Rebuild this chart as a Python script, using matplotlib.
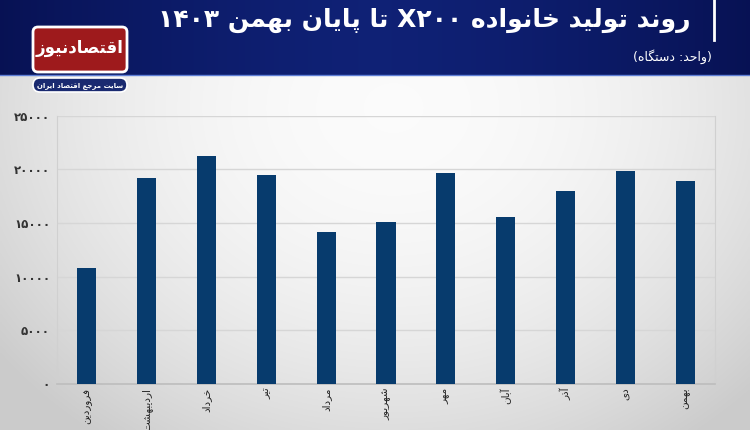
import matplotlib
matplotlib.use("Agg")
import matplotlib.pyplot as plt
import numpy as np
from matplotlib.patches import FancyBboxPatch
from matplotlib.ticker import FuncFormatter

# ---------------- data ----------------
months = ["فروردین", "اردیبهشت", "خرداد", "تیر", "مرداد", "شهریور",
          "مهر", "آبان", "آذر", "دی", "بهمن"]
production = [10800, 19200, 21300, 19500, 14150, 15100,
              19650, 15600, 18000, 19900, 18900]
y_ticks = [0, 5000, 10000, 15000, 20000, 25000]
title_text = "روند تولید خانواده X۲۰۰ تا پایان بهمن ۱۴۰۳"
subtitle_text = "(واحد: دستگاه)"
logo_text = "اقتصادنیوز"
logo_sub = "سایت مرجع اقتصاد ایران"

# ---------------- minimal Persian shaping ----------------
FORMS = {
    'ا': ('\uFE8D', '\uFE8E', None, None),
    'آ': ('\uFE81', '\uFE82', None, None),
    'ب': ('\uFE8F', '\uFE90', '\uFE91', '\uFE92'),
    'پ': ('\uFB56', '\uFB57', '\uFB58', '\uFB59'),
    'ت': ('\uFE95', '\uFE96', '\uFE97', '\uFE98'),
    'ج': ('\uFE9D', '\uFE9E', '\uFE9F', '\uFEA0'),
    'ح': ('\uFEA1', '\uFEA2', '\uFEA3', '\uFEA4'),
    'خ': ('\uFEA5', '\uFEA6', '\uFEA7', '\uFEA8'),
    'د': ('\uFEA9', '\uFEAA', None, None),
    'ذ': ('\uFEAB', '\uFEAC', None, None),
    'ر': ('\uFEAD', '\uFEAE', None, None),
    'ز': ('\uFEAF', '\uFEB0', None, None),
    'س': ('\uFEB1', '\uFEB2', '\uFEB3', '\uFEB4'),
    'ش': ('\uFEB5', '\uFEB6', '\uFEB7', '\uFEB8'),
    'ص': ('\uFEB9', '\uFEBA', '\uFEBB', '\uFEBC'),
    'ع': ('\uFEC9', '\uFECA', '\uFECB', '\uFECC'),
    'ف': ('\uFED1', '\uFED2', '\uFED3', '\uFED4'),
    'ق': ('\uFED5', '\uFED6', '\uFED7', '\uFED8'),
    'گ': ('\uFB92', '\uFB93', '\uFB94', '\uFB95'),
    'ل': ('\uFEDD', '\uFEDE', '\uFEDF', '\uFEE0'),
    'م': ('\uFEE1', '\uFEE2', '\uFEE3', '\uFEE4'),
    'ن': ('\uFEE5', '\uFEE6', '\uFEE7', '\uFEE8'),
    'ه': ('\uFEE9', '\uFEEA', '\uFEEB', '\uFEEC'),
    'و': ('\uFEED', '\uFEEE', None, None),
    'ی': ('\uFBFC', '\uFBFD', '\uFBFE', '\uFBFF'),
}
MIRROR = {'(': ')', ')': '('}


def shape(text):
    out = []
    for i, c in enumerate(text):
        if c not in FORMS:
            out.append(c)
            continue
        prev = text[i - 1] if i > 0 else None
        nxt = text[i + 1] if i + 1 < len(text) else None
        jp = prev in FORMS and FORMS[prev][2] is not None
        jn = nxt in FORMS and FORMS[c][2] is not None
        iso, fin, ini, med = FORMS[c]
        if jp and jn:
            out.append(med)
        elif jp:
            out.append(fin)
        elif jn:
            out.append(ini)
        else:
            out.append(iso)
    return ''.join(out)


def is_ltr(c):
    return (c.isascii() and c.isalnum()) or ('\u06F0' <= c <= '\u06F9')


def fa(text):
    s = shape(text)
    runs = []
    for c in s:
        kind = is_ltr(c)
        if runs and runs[-1][0] == kind:
            runs[-1][1].append(c)
        else:
            runs.append([kind, [c]])
    vis = []
    for kind, chars in reversed(runs):
        if kind:
            vis.append(''.join(chars))
        else:
            vis.append(''.join(MIRROR.get(c, c) for c in reversed(chars)))
    return ''.join(vis)


def fa_digits(n):
    return ''.join(chr(0x06F0 + int(d)) for d in str(int(n)))


# ---------------- figure ----------------
W, H = 750, 430
plt.rcParams['font.family'] = ['DejaVu Sans']
fig = plt.figure(figsize=(W / 100, H / 100), dpi=100)


def fx(x):
    return x / W


def fy(y):
    return 1 - y / H


# background gradient
bg = fig.add_axes([0, 0, 1, 1], zorder=0)
bg.set_axis_off()
xx = np.linspace(-1, 1, 300)
yy = np.linspace(-1, 1, 200)
X, Y = np.meshgrid(xx, yy)
r = np.sqrt(((X - 0.05) / 1.1) ** 2 + ((Y + 0.5) / 1.6) ** 2)
v = 0.985 - 0.13 * np.clip(r, 0, 1.2) ** 2
img = np.dstack([v, v, v])
bg.imshow(img, extent=[0, W, H, 0], aspect='auto', interpolation='bilinear')

# header gradient
hx = np.linspace(-1, 1, 300)
hv = 1 - np.abs(hx) ** 1.5
c0 = np.array([0.03, 0.07, 0.33])
c1 = np.array([0.06, 0.13, 0.46])
hdr = c0[None, None, :] + (c1 - c0)[None, None, :] * hv[None, :, None]
hdr = np.repeat(hdr, 2, axis=0)
bg.imshow(hdr, extent=[0, W, 75, 0], aspect='auto', interpolation='bilinear')
bg.plot([0, W], [75, 75], color='#5f7fd6', lw=1.0)
bg.set_xlim(0, W)
bg.set_ylim(H, 0)

# title bar line
bg.plot([714, 714], [0, 40], color='white', lw=2)
bg.text(690, 20, fa(title_text), color='white', fontsize=18, fontweight='bold',
        ha='right', va='center')
bg.text(712, 57, fa(subtitle_text), color='white', fontsize=9,
        ha='right', va='center')

# logo
bg.add_patch(FancyBboxPatch((33, 27), 94, 45, boxstyle="round,pad=0,rounding_size=5",
                            facecolor='#9e1a1c', edgecolor='white', lw=2.0, zorder=3))
bg.text(80, 48, fa(logo_text), color='white', fontsize=12, fontweight='bold',
        ha='center', va='center', zorder=4)
bg.add_patch(FancyBboxPatch((33, 78), 94, 14, boxstyle="round,pad=0,rounding_size=7",
                            facecolor='#1a2a70', edgecolor='white', lw=1.2, zorder=3))
bg.text(80, 85.5, fa(logo_sub), color='white', fontsize=5.0, fontweight='bold',
        ha='center', va='center', zorder=4)

# ---------------- chart ----------------
left, right, top, bottom = 57, 715, 116, 383.5
ax = fig.add_axes([fx(left), fy(bottom), (right - left) / W, (bottom - top) / H], zorder=2)
ax.set_facecolor('none')
x = np.arange(len(months))
ax.bar(x, production, width=0.32, color='#073b6d', zorder=3)
ax.set_xlim(-0.5, len(months) - 0.5)
ax.set_ylim(0, 25000)
ax.set_yticks(y_ticks)
ax.yaxis.set_major_formatter(FuncFormatter(lambda v, p: fa_digits(v)))
ax.grid(axis='y', color='#d6d6d6', lw=1.0, zorder=1)
ax.set_xticks(x)
ax.set_xticklabels([fa(m) for m in months], rotation=90, fontsize=7.5, color='#222222',
                   va='top', ha='center')
ax.tick_params(axis='x', length=0, pad=3)
ax.tick_params(axis='y', length=0, pad=5, labelsize=8.5, labelcolor='#333333')
for lab in ax.get_yticklabels():
    lab.set_fontweight('bold')
ax.spines['top'].set_visible(False)
ax.spines['left'].set_color('#d0d0d0')
ax.spines['right'].set_color('#d0d0d0')
ax.spines['bottom'].set_color('#bdbdbd')
ax.spines['bottom'].set_linewidth(1.2)

fig.savefig('out.png', dpi=100)
